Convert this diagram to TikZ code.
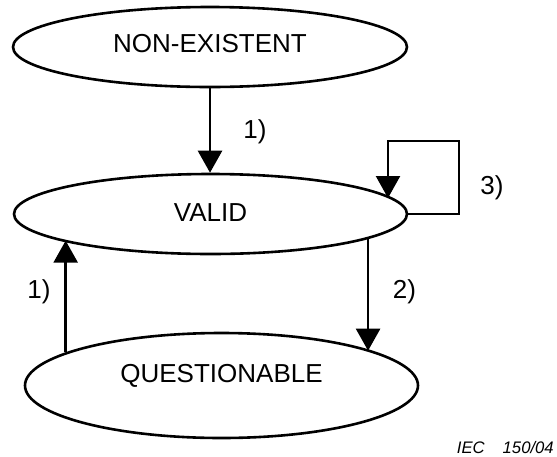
\documentclass[tikz,border=0pt]{standalone}
\usepackage{fontspec}
\setmainfont{Liberation Sans}
\usetikzlibrary{shapes.geometric,arrows.meta}
\begin{document}
\begin{tikzpicture}[x=1pt,y=-1pt,
  state/.style={draw,ellipse,line width=2.6pt,inner sep=0pt,text height=19pt,font=\fontsize{26}{30}\selectfont},
  conn/.style={line width=2.6pt,-{Triangle[length=22pt,width=24pt]}},
  loopc/.style={line width=2.2pt,-{Triangle[length=22pt,width=24pt]}},
  lbl/.style={font=\fontsize{26}{30}\selectfont,inner sep=0pt}]
\useasboundingbox (0,0) rectangle (557,456);
\node[state,text depth=8pt,minimum width=394pt,minimum height=80pt] (ne) at (210,47) {NON-EXISTENT};
\node[state,text depth=4pt,minimum width=393pt,minimum height=80pt] (valid) at (210.5,214) {VALID};
\node[state,text depth=25pt,minimum width=393pt,minimum height=105pt] (q) at (221.5,385.5) {QUESTIONABLE};
\draw[conn] (ne.south) -- (ne.south |- valid.north);
\draw[conn] (q.168.1) -- (q.168.1 |- valid.190.8);
\draw[conn] (valid.351.2) -- (valid.351.2 |- q.13.6);
\coordinate (lr) at (459,141);
\coordinate (ll) at (388,141);
\draw[loopc] (valid.east) -| (lr) -- (ll) -- (ll |- valid.5.5);
\node[lbl] (l1) at (255,132) {1)};
\node[lbl] (l3) at (492,188) {3)};
\node[lbl] (l1b) at (39,292) {1)};
\node[lbl] (l2) at (404.5,292) {2)};
\node[font=\fontsize{16.7}{20}\selectfont\itshape,inner sep=0pt,anchor=east] (iec) at (554,447.5) {IEC\hspace{18pt}150/04};
\end{tikzpicture}
\end{document}
